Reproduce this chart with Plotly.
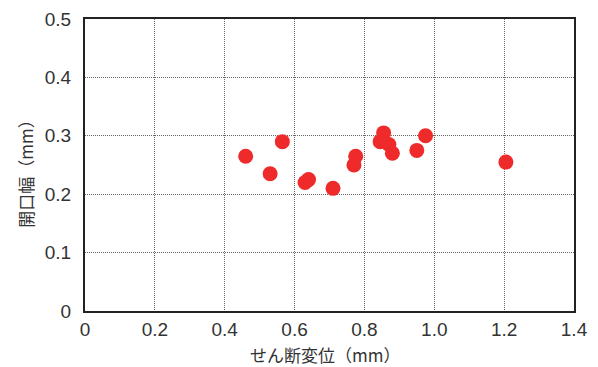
import plotly.graph_objects as go

shear_disp = [0.46, 0.53, 0.565, 0.63, 0.64, 0.71, 0.77, 0.775, 0.845, 0.855, 0.87, 0.88, 0.95, 0.975, 1.205]
opening_width = [0.265, 0.235, 0.29, 0.22, 0.225, 0.21, 0.25, 0.265, 0.29, 0.305, 0.285, 0.27, 0.275, 0.30, 0.255]

x_ticks = [0, 0.2, 0.4, 0.6, 0.8, 1.0, 1.2, 1.4]
x_tick_labels = ["0", "0.2", "0.4", "0.6", "0.8", "1.0", "1.2", "1.4"]
y_ticks = [0, 0.1, 0.2, 0.3, 0.4, 0.5]
y_tick_labels = ["0", "0.1", "0.2", "0.3", "0.4", "0.5"]
x_title = "せん断変位（mm）"
y_title = "開口幅（mm）"

font_family = "Liberation Sans, Noto Sans CJK JP, sans-serif"
cjk_family = "Noto Sans CJK JP, Liberation Sans, sans-serif"

fig = go.Figure()
fig.add_trace(go.Scatter(
    x=shear_disp, y=opening_width, mode="markers",
    marker=dict(size=15, color="#EE2A2B", line=dict(width=0)),
    showlegend=False, cliponaxis=False,
))

grid_common = dict(
    showgrid=True, gridcolor="#666666", griddash="1px,1px", gridwidth=1,
    showline=True, linecolor="#222222", linewidth=2, mirror=True,
    zeroline=False, ticks="", ticklen=0,
)

fig.update_layout(
    width=582, height=359,
    margin=dict(l=77, r=16, t=11, b=56, autoexpand=False),
    paper_bgcolor="white", plot_bgcolor="white",
    font=dict(family=font_family, size=19, color="#333333"),
    xaxis=dict(range=[0, 1.4], tickvals=x_ticks, ticktext=x_tick_labels, **grid_common),
    yaxis=dict(range=[0, 0.5], tickvals=y_ticks, ticktext=y_tick_labels,
               ticklabelstandoff=8, **grid_common),
    annotations=[
        dict(text=x_title, xref="paper", yref="paper", x=0.49, y=-0.148,
             xanchor="center", yanchor="middle", showarrow=False,
             font=dict(family=cjk_family, size=17, color="#333333")),
        dict(text=y_title, xref="paper", yref="paper", x=-0.121, y=0.483,
             xanchor="center", yanchor="middle", showarrow=False, textangle=-90,
             font=dict(family=cjk_family, size=17, color="#333333")),
    ],
)

fig.write_html("out.html")
